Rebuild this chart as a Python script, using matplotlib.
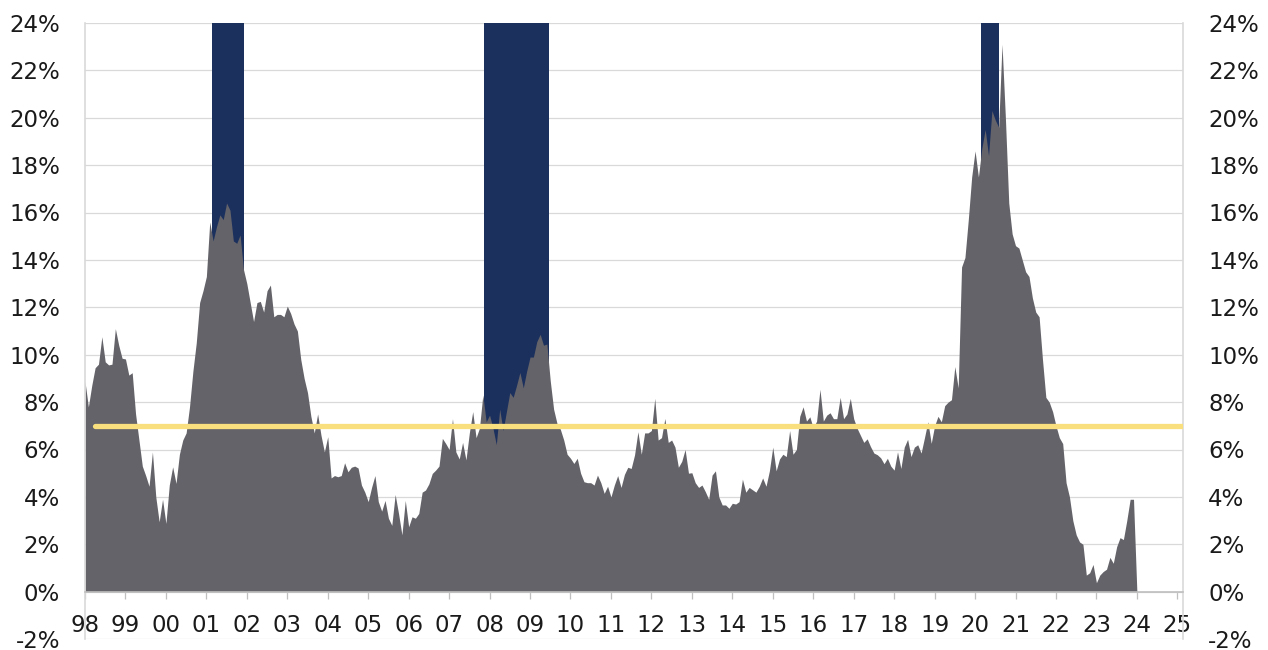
import matplotlib

matplotlib.use("Agg")
import matplotlib.pyplot as plt
import numpy as np

# monthly series, Jan 1998 onwards (%)
growth = [
    8.86, 7.8, 8.7, 9.45, 9.6, 10.76, 9.7, 9.57, 9.6, 11.1, 10.4, 9.85,        # 1998
    9.82, 9.14, 9.24, 7.5, 6.4, 5.3, 4.9, 4.45, 5.9, 4.0, 2.95, 3.9,           # 1999
    2.88, 4.5, 5.27, 4.57, 5.8, 6.4, 6.7, 7.8, 9.3, 10.5, 12.2, 12.7,          # 2000
    13.3, 15.6, 14.8, 15.4, 15.9, 15.7, 16.4, 16.1, 14.8, 14.7, 15.05, 13.6,   # 2001
    13.0, 12.2, 11.4, 12.2, 12.25, 11.8, 12.7, 12.94, 11.6, 11.7, 11.7, 11.6,  # 2002
    12.05, 11.74, 11.3, 11.0, 9.8, 9.0, 8.4, 7.4, 6.7, 7.5, 6.6, 5.9,          # 2003
    6.54, 4.8, 4.9, 4.85, 4.9, 5.44, 5.06, 5.25, 5.3, 5.22, 4.5, 4.2,          # 2004
    3.8, 4.4, 4.9, 3.8, 3.4, 3.85, 3.1, 2.8, 4.1, 3.3, 2.4, 3.85,              # 2005
    2.74, 3.16, 3.1, 3.3, 4.2, 4.29, 4.55, 4.99, 5.13, 5.3, 6.47, 6.25,        # 2006
    6.0, 7.3, 5.9, 5.6, 6.3, 5.56, 6.7, 7.6, 6.5, 6.9, 8.3, 7.17,              # 2007
    7.45, 6.9, 6.2, 7.7, 6.8, 7.6, 8.4, 8.2, 8.7, 9.25, 8.6, 9.3,              # 2008
    9.9, 9.9, 10.55, 10.86, 10.4, 10.45, 8.9, 7.7, 7.1, 6.85, 6.4, 5.8,        # 2009
    5.63, 5.41, 5.63, 5.0, 4.64, 4.6, 4.6, 4.5, 4.92, 4.6, 4.15, 4.45,         # 2010
    4.0, 4.5, 4.9, 4.4, 4.95, 5.25, 5.2, 5.77, 6.75, 5.8, 6.7, 6.7,            # 2011
    6.8, 8.16, 6.4, 6.5, 7.31, 6.3, 6.4, 6.1, 5.25, 5.5, 6.0, 5.0,             # 2012
    5.02, 4.6, 4.4, 4.5, 4.22, 3.9, 4.92, 5.1, 4.0, 3.66, 3.66, 3.52,          # 2013
    3.73, 3.7, 3.8, 4.75, 4.2, 4.4, 4.3, 4.2, 4.45, 4.8, 4.45, 5.1,            # 2014
    6.1, 5.1, 5.6, 5.8, 5.7, 6.8, 5.8, 6.0, 7.4, 7.8, 7.2, 7.38,               # 2015
    6.9, 7.2, 8.54, 7.2, 7.45, 7.55, 7.3, 7.3, 8.2, 7.3, 7.5, 8.16,            # 2016
    7.3, 6.9, 6.6, 6.3, 6.45, 6.12, 5.85, 5.78, 5.65, 5.4, 5.63, 5.3,          # 2017
    5.13, 5.9, 5.2, 6.1, 6.43, 5.7, 6.1, 6.2, 5.85, 6.5, 7.17, 6.26,           # 2018
    7.0, 7.4, 7.17, 7.85, 8.0, 8.1, 9.5, 8.6, 13.7, 14.1, 15.7, 17.5,          # 2019
    18.6, 17.5, 18.7, 19.5, 18.4, 20.3, 19.9, 19.6, 23.1, 20.0, 16.4, 15.1,    # 2020
    14.6, 14.5, 14.0, 13.5, 13.3, 12.4, 11.8, 11.6, 9.8, 8.2, 8.0, 7.6,        # 2021
    7.0, 6.5, 6.25, 4.6, 4.0, 3.0, 2.4, 2.1, 2.0, 0.7, 0.8, 1.15,              # 2022
    0.38, 0.7, 0.85, 0.95, 1.45, 1.2, 1.9, 2.28, 2.2, 3.0, 3.9, 3.9,           # 2023
    0.0, 0.0, 0.0, 0.0, 0.0, 0.0, 0.0, 0.0, 0.0, 0.0, 0.0, 0.0,                # 2024
    0.0, 0.0,                                                                  # 2025
]
start_year = 1998

# recession shading (fractional years)
rec_start = [2001.13, 2007.86, 2020.14]
rec_end = [2001.93, 2009.47, 2020.60]

ref_level = 7.0
ref_start = 1998.25

years = list(range(1998, 2026))
year_labels = [f"{y % 100:02d}" for y in years]
y_ticks = list(range(-2, 26, 2))

NAVY = "#1c305e"
GREY = "#646369"
YELLOW = "#f9df7d"
GRID = "#d9d9d9"
TEXT = "#1a1a1a"

plt.rcParams["font.family"] = ["DejaVu Sans"]

fig = plt.figure(figsize=(12.68, 6.5), dpi=100)
ax = fig.add_axes([85 / 1268, 1 - 639.1 / 650, (1183 - 85) / 1268, (639.1 - 22.9) / 650])

x_left, x_right = 1998.0, 2025.14
y_low, y_high = -2, 24

dates = start_year + np.arange(len(growth)) / 12.0
vals = np.asarray(growth)

for s, e in zip(rec_start, rec_end):
    ax.fill_between([s, e], 0, y_high, color=NAVY, lw=0, zorder=1)

ax.fill_between(dates, 0, vals, color=GREY, lw=0, zorder=2)
ax.plot([ref_start, x_right], [ref_level, ref_level], color=YELLOW, lw=3.8,
        solid_capstyle="round", zorder=3)

ax.set_xlim(x_left, x_right)
ax.set_ylim(y_low, y_high)

ax.set_yticks(y_ticks)
ax.set_yticklabels([f"{v}%" for v in y_ticks])
ax.yaxis.grid(True, color=GRID, lw=0.9, zorder=0)
ax.set_axisbelow(True)
ax.tick_params(axis="y", length=0, pad=18, labelsize=16.5, labelcolor=TEXT)

ax.set_xticks(years)
ax.set_xticklabels(year_labels)
ax.spines["bottom"].set_position(("data", 0))
ax.spines["bottom"].set_color("#bfbfbf")
ax.spines["bottom"].set_linewidth(1.2)
ax.spines["bottom"].set_zorder(4)
ax.tick_params(axis="x", length=5, width=0.9, color="#bfbfbf", direction="out",
               pad=11, labelsize=16.5, labelcolor=TEXT)

for side in ("left", "right"):
    ax.spines[side].set_color(GRID)
    ax.spines[side].set_linewidth(1.2)
ax.spines["top"].set_visible(False)

ax2 = ax.twinx()
ax2.set_ylim(y_low, y_high)
ax2.set_yticks(y_ticks)
ax2.set_yticklabels([f"{v}%" for v in y_ticks])
ax2.tick_params(axis="y", length=0, pad=18, labelsize=16.5, labelcolor=TEXT)
for side in ("left", "right", "top", "bottom"):
    ax2.spines[side].set_visible(False)

fig.savefig("out.png", dpi=100, facecolor="white")
